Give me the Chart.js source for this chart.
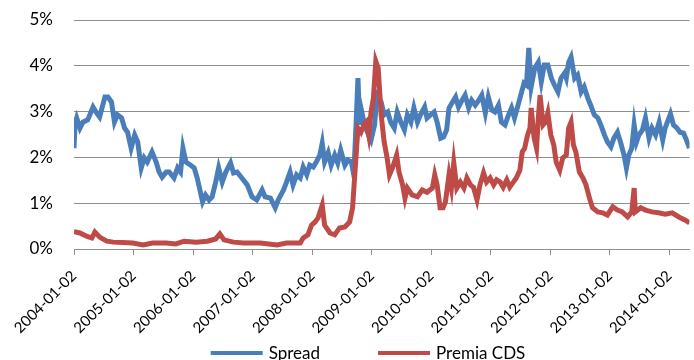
<!DOCTYPE html>
<html>
<head>
<meta charset="utf-8">
<title>Spread vs Premia CDS</title>
<script src="https://cdn.jsdelivr.net/npm/chart.js@4/dist/chart.umd.min.js"></script>
<style>
  html, body { margin: 0; padding: 0; background: #fff; overflow: hidden; }
  .wrap { position: relative; width: 694px; height: 360px; }
</style>
</head>
<body>
<div class="wrap"><canvas id="chart"></canvas></div>
<script>
// dates as decimal years (2004.0 = 2004-01-02), values in %
const spreadYears = [
  2004.00, 2004.02, 2004.045, 2004.10, 2004.15, 2004.23, 2004.32, 2004.38, 2004.43, 2004.52, 2004.57, 2004.63, 2004.68, 2004.73, 2004.80, 2004.85, 2004.90, 2004.96,
  2005.02, 2005.07, 2005.13, 2005.18, 2005.23, 2005.31, 2005.38, 2005.43, 2005.48, 2005.55, 2005.60, 2005.68, 2005.74, 2005.79, 2005.83, 2005.88, 2005.96,
  2006.02, 2006.07, 2006.16, 2006.21, 2006.27, 2006.32, 2006.38, 2006.43, 2006.49, 2006.55, 2006.63, 2006.68, 2006.74, 2006.82, 2006.91, 2006.99,
  2007.07, 2007.16, 2007.21, 2007.30, 2007.38, 2007.43, 2007.52, 2007.57, 2007.63, 2007.68, 2007.74, 2007.80, 2007.85, 2007.91, 2007.96,
  2008.02, 2008.07, 2008.13, 2008.17, 2008.21, 2008.27, 2008.32, 2008.38, 2008.43, 2008.48, 2008.55, 2008.60, 2008.66, 2008.70, 2008.74, 2008.77, 2008.80, 2008.82, 2008.88, 2008.93, 2008.99,
  2009.05, 2009.09, 2009.16, 2009.21, 2009.27, 2009.32, 2009.38, 2009.43, 2009.49, 2009.55, 2009.60, 2009.66, 2009.71, 2009.77, 2009.82, 2009.89, 2009.93, 2009.99,
  2010.05, 2010.10, 2010.16, 2010.21, 2010.26, 2010.30, 2010.35, 2010.41, 2010.46, 2010.52, 2010.57, 2010.63, 2010.68, 2010.74, 2010.80, 2010.85, 2010.91, 2010.96,
  2011.02, 2011.07, 2011.13, 2011.18, 2011.24, 2011.30, 2011.35, 2011.40, 2011.46, 2011.52, 2011.56, 2011.60, 2011.64, 2011.68, 2011.74, 2011.80, 2011.85, 2011.90, 2011.96,
  2012.02, 2012.07, 2012.13, 2012.18, 2012.24, 2012.27, 2012.31, 2012.35, 2012.41, 2012.46, 2012.52, 2012.57, 2012.63, 2012.68, 2012.74, 2012.80, 2012.85, 2012.91, 2012.96,
  2013.02, 2013.07, 2013.13, 2013.18, 2013.24, 2013.28, 2013.32, 2013.37, 2013.41, 2013.45, 2013.49, 2013.55, 2013.60, 2013.66, 2013.71, 2013.77, 2013.83, 2013.89, 2013.93,
  2014.02, 2014.07, 2014.13, 2014.18, 2014.24, 2014.30, 2014.34
];
const spreadValues = [
  2.20, 2.75, 2.86, 2.64, 2.77, 2.82, 3.10, 2.97, 2.88, 3.32, 3.32, 3.21, 2.77, 2.93, 2.86, 2.64, 2.55, 2.20,
  2.49, 2.34, 1.77, 1.99, 1.90, 2.12, 1.90, 1.68, 1.57, 1.68, 1.68, 1.55, 1.77, 1.68, 2.20, 1.90, 1.83,
  1.77, 1.55, 1.03, 1.18, 1.07, 1.14, 1.46, 1.77, 1.46, 1.68, 1.88, 1.66, 1.68, 1.55, 1.40, 1.14,
  1.07, 1.29, 1.14, 1.11, 0.90, 1.07, 1.29, 1.46, 1.68, 1.40, 1.62, 1.55, 1.79, 1.62, 1.83,
  1.79, 1.90, 2.05, 2.31, 1.90, 2.10, 1.83, 2.05, 1.88, 2.16, 1.83, 1.94, 1.90, 1.62, 2.77, 3.73, 2.71, 3.08, 2.71, 2.55, 2.38,
  2.71, 3.36, 3.21, 2.93, 2.99, 2.77, 2.64, 2.99, 2.77, 2.60, 2.93, 2.77, 3.08, 2.77, 2.93, 3.10, 2.86, 2.93,
  2.99, 2.77, 2.42, 2.45, 2.60, 3.08, 3.19, 3.32, 3.10, 3.25, 3.36, 3.08, 3.25, 3.14, 3.25, 3.36, 2.97, 3.32,
  3.03, 2.99, 3.14, 2.77, 2.71, 2.93, 3.08, 2.86, 3.14, 3.43, 3.62, 3.58, 4.39, 3.54, 3.95, 4.08, 3.65, 4.02, 4.02,
  3.73, 3.58, 3.43, 3.73, 3.84, 3.73, 4.08, 4.19, 3.73, 3.80, 3.43, 3.54, 3.30, 3.14, 2.93, 2.86, 2.71, 2.49, 2.34,
  2.23, 2.42, 2.55, 2.34, 2.05, 1.77, 2.05, 2.20, 2.71, 2.34, 2.49, 2.60, 2.86, 2.42, 2.64, 2.49, 2.77, 2.38, 2.64,
  2.95, 2.71, 2.64, 2.55, 2.53, 2.34, 2.20
];

const cdsYears = [
  2004.00, 2004.10, 2004.21, 2004.30, 2004.35, 2004.43, 2004.55, 2004.66, 2004.82, 2004.99,
  2005.16, 2005.32, 2005.55, 2005.71, 2005.85,
  2006.05, 2006.24, 2006.38, 2006.45, 2006.52, 2006.68, 2006.85,
  2007.13, 2007.41, 2007.57, 2007.80, 2007.85, 2007.93, 2007.99,
  2008.05, 2008.10, 2008.17, 2008.21, 2008.30, 2008.38, 2008.46, 2008.55, 2008.63, 2008.68, 2008.72, 2008.77, 2008.82, 2008.87, 2008.91, 2008.95, 2008.99,
  2009.03, 2009.07, 2009.11, 2009.16, 2009.21, 2009.26, 2009.30, 2009.35, 2009.42, 2009.46, 2009.52, 2009.56, 2009.60, 2009.68, 2009.77, 2009.85, 2009.93,
  2010.02, 2010.06, 2010.10, 2010.15, 2010.20, 2010.24, 2010.30, 2010.34, 2010.38, 2010.43, 2010.49, 2010.55, 2010.60, 2010.66, 2010.71, 2010.77, 2010.82, 2010.88, 2010.93, 2010.99,
  2011.05, 2011.10, 2011.16, 2011.21, 2011.27, 2011.32, 2011.38, 2011.43, 2011.49, 2011.53, 2011.57, 2011.62, 2011.66, 2011.68, 2011.73, 2011.77, 2011.80, 2011.83, 2011.88, 2011.92, 2011.96,
  2012.01, 2012.06, 2012.10, 2012.16, 2012.21, 2012.27, 2012.31, 2012.35, 2012.39, 2012.43, 2012.49, 2012.55, 2012.60, 2012.66, 2012.71, 2012.80, 2012.88, 2012.96,
  2013.05, 2013.13, 2013.21, 2013.30, 2013.37, 2013.41, 2013.43, 2013.52, 2013.60, 2013.71, 2013.82, 2013.93,
  2014.05, 2014.16, 2014.27, 2014.34
];
const cdsValues = [
  0.38, 0.35, 0.28, 0.24, 0.37, 0.26, 0.17, 0.15, 0.14, 0.13,
  0.09, 0.13, 0.13, 0.11, 0.17,
  0.15, 0.17, 0.22, 0.33, 0.20, 0.15, 0.13,
  0.13, 0.09, 0.13, 0.13, 0.24, 0.31, 0.52,
  0.59, 0.68, 0.96, 0.52, 0.35, 0.31, 0.46, 0.48, 0.59, 0.90, 1.68, 2.64, 2.55, 2.71, 2.77, 2.49, 2.99,
  3.30, 4.10, 3.95, 2.93, 2.34, 1.99, 1.62, 1.77, 2.05, 1.68, 1.40, 1.11, 1.33, 1.18, 1.14, 1.29, 1.24,
  1.33, 1.62, 1.40, 0.90, 0.90, 1.03, 1.62, 1.33, 1.88, 1.33, 1.46, 1.33, 1.55, 1.40, 1.35, 1.07, 1.40, 1.66, 1.46, 1.55,
  1.40, 1.51, 1.46, 1.35, 1.51, 1.35, 1.46, 1.55, 1.72, 2.12, 2.20, 2.49, 2.64, 3.08, 2.42, 2.20, 2.86, 3.36, 2.71, 2.77, 2.97,
  2.49, 2.27, 1.90, 1.72, 1.99, 2.05, 2.64, 2.77, 2.27, 2.12, 1.68, 1.55, 1.40, 1.11, 0.90, 0.81, 0.79, 0.74,
  0.92, 0.85, 0.81, 0.70, 0.81, 1.33, 0.81, 0.90, 0.85, 0.81, 0.79, 0.76,
  0.79, 0.70, 0.63, 0.57
];

const firstYear = 2004;
const lastYear = 2014.34;
const yTicksMax = 5;

const toPoints = (xs, ys) => xs.map((x, i) => ({ x: x, y: ys[i] }));

const gridColor = '#8e8e8e';

// legend drawn under the axis labels, cut by the bottom edge like the original
const lineLegend = {
  id: 'lineLegend',
  afterDraw(chart) {
    const ctx = chart.ctx;
    const sample = 52, gap = 6, spacing = 58;
    const centerX = 368, y = 353;
    ctx.save();
    ctx.font = '17px Lato';
    ctx.textBaseline = 'middle';
    const items = chart.data.datasets.map((ds) => ({
      text: ds.label,
      color: ds.borderColor,
      width: sample + gap + ctx.measureText(ds.label).width
    }));
    const total = items.reduce((s, it) => s + it.width, 0) + spacing * (items.length - 1);
    let x = centerX - total / 2;
    items.forEach((it) => {
      ctx.strokeStyle = it.color;
      ctx.lineWidth = 4;
      ctx.beginPath();
      ctx.moveTo(x, y);
      ctx.lineTo(x + sample, y);
      ctx.stroke();
      ctx.fillStyle = '#000';
      ctx.fillText(it.text, x + sample + gap, y + 1);
      x += it.width + spacing;
    });
    ctx.restore();
  }
};

const chart = new Chart(document.getElementById('chart'), {
  type: 'line',
  data: {
    datasets: [
      {
        label: 'Spread',
        data: toPoints(spreadYears, spreadValues),
        borderColor: '#4A7EBB',
        backgroundColor: '#4A7EBB',
        borderWidth: 5,
        pointRadius: 0,
        tension: 0,
        order: 1
      },
      {
        label: 'Premia CDS',
        data: toPoints(cdsYears, cdsValues),
        borderColor: '#BE4B48',
        backgroundColor: '#BE4B48',
        borderWidth: 5,
        pointRadius: 0,
        tension: 0,
        order: 0
      }
    ]
  },
  options: {
    responsive: true,
    maintainAspectRatio: false,
    animation: false,
    layout: { padding: { left: 0, top: 20, right: 0, bottom: 0 } },
    scales: {
      x: {
        type: 'linear',
        min: firstYear,
        max: lastYear,
        grid: { drawOnChartArea: false, color: gridColor, tickLength: 6 },
        border: { color: gridColor },
        ticks: {
          stepSize: 1,
          includeBounds: false,
          autoSkip: false,
          minRotation: 45,
          maxRotation: 45,
          padding: 12,
          color: '#000',
          font: { family: 'Lato', size: 15 },
          callback: (v) => `${v}-01-02`
        },
        afterFit: (scale) => { scale.height = 111; }
      },
      y: {
        min: 0,
        max: yTicksMax,
        // invisible tick marks keep the labels away from the plot
        grid: { color: gridColor, drawTicks: true, tickLength: 18, tickColor: 'rgba(0,0,0,0)' },
        border: { display: false },
        ticks: {
          stepSize: 1,
          padding: 3,
          color: '#000',
          font: { family: 'Lato', size: 17 },
          callback: (v) => `${v}%`
        },
        afterFit: (scale) => { scale.width = 74; }
      }
    },
    plugins: {
      legend: { display: false },
      tooltip: { enabled: false }
    }
  },
  plugins: [lineLegend]
});
</script>
</body>
</html>
